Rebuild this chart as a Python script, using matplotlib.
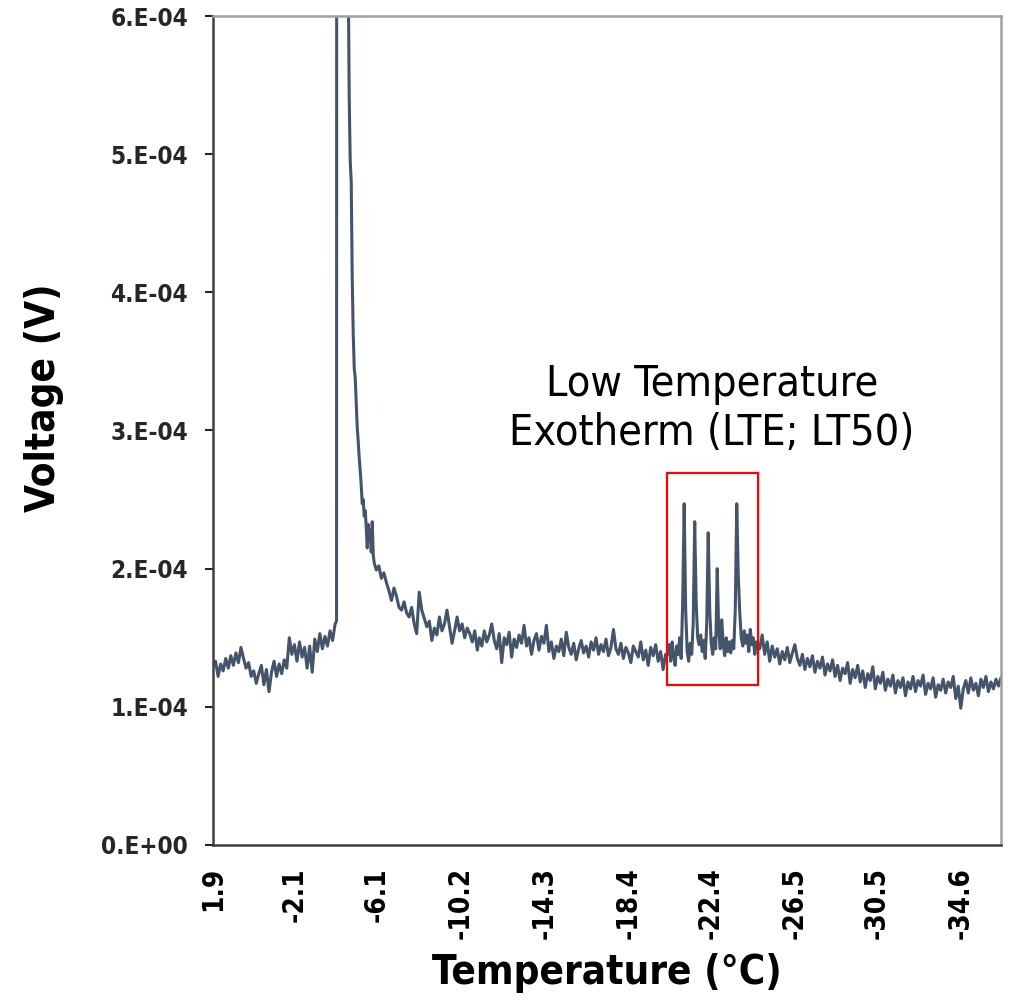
"""
Differential thermal analysis trace: voltage vs temperature with LTE box
"""

import numpy as np
import matplotlib
matplotlib.use('Agg')
import matplotlib.pyplot as plt
from matplotlib.patches import Rectangle
from matplotlib.ticker import FuncFormatter, MultipleLocator

plt.rcParams['font.family'] = ['DejaVu Sans']
plt.rcParams['font.stretch'] = 'condensed'

# ---- data (voltage in units of 1e-4 V) ----
# baseline before the freezing exotherm, 1.9 -> -4.06 C
pre_t = (1.9, -4.06)
pre_v = [1.30, 1.33, 1.22, 1.31, 1.26, 1.35, 1.28, 1.37, 1.30, 1.39, 1.32, 1.43,
         1.35, 1.28, 1.32, 1.22, 1.26, 1.17, 1.24, 1.30, 1.16, 1.27, 1.11,
         1.25, 1.33, 1.22, 1.31, 1.24, 1.34, 1.28,
         1.50, 1.38, 1.45, 1.33, 1.47, 1.36, 1.43, 1.28, 1.44, 1.25,
         1.49, 1.40, 1.53, 1.42, 1.51, 1.44, 1.55, 1.48, 1.60]

# freezing exotherm (goes off scale)
peak_t = [-4.13, -4.14, -4.65]
peak_v = [1.62, 9.0, 9.0]

# decay after freezing, -4.70 -> -5.97 C (fine steps)
decay1_t = (-4.70, -5.97)
decay1_v = [6.3, 5.4, 4.95, 4.8, 4.1, 3.7, 3.45, 3.38, 3.2, 3.02, 2.92, 2.8,
            2.71, 2.6, 2.47, 2.5, 2.38, 2.42, 2.3, 2.15, 2.32, 2.2, 2.28, 2.12,
            2.34, 2.1, 2.04]

# decay tail, -6.07 -> -11.0 C
decay2_t = (-6.07, -11.0)
decay2_v = [1.99, 2.02, 1.93, 1.97, 1.90, 1.84, 1.77, 1.86, 1.80, 1.72, 1.70,
            1.76, 1.68, 1.65, 1.72, 1.60, 1.53, 1.83, 1.70, 1.64, 1.58, 1.62,
            1.48, 1.57, 1.52, 1.65, 1.55, 1.60, 1.70, 1.58, 1.46, 1.55, 1.65,
            1.55, 1.60, 1.50, 1.57, 1.53, 1.47, 1.55, 1.41]

# flat baseline, -11.1 -> -20.19 C
mid_t = (-11.1, -20.19)
mid_v = [1.50, 1.44, 1.55, 1.47, 1.52, 1.60, 1.48, 1.42, 1.53, 1.32, 1.50, 1.45,
         1.54, 1.36, 1.49, 1.43, 1.52, 1.46, 1.59, 1.44, 1.50, 1.38, 1.48, 1.53,
         1.41, 1.51, 1.46, 1.59, 1.40, 1.47, 1.35, 1.44, 1.40, 1.49, 1.37, 1.54,
         1.43, 1.38, 1.46, 1.34, 1.42, 1.48, 1.39, 1.44, 1.36, 1.47, 1.41, 1.50,
         1.38, 1.45, 1.40, 1.49, 1.37, 1.43, 1.56, 1.42, 1.38, 1.46, 1.35, 1.43,
         1.39, 1.32, 1.44, 1.40, 1.36, 1.47, 1.34, 1.41, 1.30, 1.43, 1.37, 1.45,
         1.33, 1.40, 1.27, 1.38]

# low temperature exotherms, -20.29 -> -24.69 C
lte_t = (-20.29, -24.69)
lte_v = [1.38, 1.45, 1.33, 1.47, 1.36, 1.30, 1.44, 1.38, 1.50, 1.35,
         1.75, 2.47, 1.70, 1.40, 1.33, 1.46, 1.38, 1.60, 2.34, 1.75,
         1.50, 1.45, 1.52, 1.40, 1.48, 1.35, 1.60, 2.26, 1.70, 1.46,
         1.38, 1.50, 1.42, 2.00, 1.55, 1.42, 1.63, 1.45, 1.37, 1.50,
         1.40, 1.47, 1.39, 1.48, 1.42, 1.70, 2.47, 1.95, 1.68, 1.50,
         1.44, 1.55, 1.46, 1.52, 1.40, 1.56, 1.45, 1.50, 1.38, 1.47, 1.42]

# tail, -24.78 -> -36.56 C
tail_t = (-24.78, -36.56)
tail_v = [1.42, 1.52, 1.38, 1.47, 1.33, 1.44, 1.36, 1.42, 1.31, 1.40, 1.34, 1.43,
          1.32, 1.39, 1.45, 1.35, 1.30, 1.38, 1.27, 1.35, 1.29, 1.37, 1.25, 1.33,
          1.28, 1.36, 1.23, 1.31, 1.26, 1.34, 1.22, 1.30, 1.19, 1.28, 1.24, 1.32,
          1.17, 1.27, 1.21, 1.30, 1.18, 1.26, 1.14, 1.24, 1.19, 1.29, 1.13, 1.22,
          1.17, 1.25, 1.12, 1.20, 1.15, 1.23, 1.10, 1.19, 1.14, 1.21, 1.08, 1.18,
          1.13, 1.22, 1.11, 1.19, 1.15, 1.23, 1.09, 1.17, 1.13, 1.21, 1.07, 1.16,
          1.12, 1.20, 1.10, 1.18, 1.14, 1.22, 1.06, 1.15, 0.99, 1.13, 1.19, 1.10,
          1.21, 1.12, 1.17, 1.08, 1.20, 1.14, 1.22, 1.11, 1.18, 1.13, 1.20, 1.15,
          1.21]

tick_labels = ['1.9', '-2.1', '-6.1', '-10.2', '-14.3', '-18.4', '-22.4',
               '-26.5', '-30.5', '-34.6']
x_range = (1.9, -36.56)

# LTE box (temperature, voltage)
box_t = (-20.24, -24.69)
box_v = (1.16e-4, 2.69e-4)

# ---- assemble trace ----
def seg(trange, vals):
    return np.linspace(trange[0], trange[1], len(vals)), np.array(vals)

parts = [seg(pre_t, pre_v), (np.array(peak_t), np.array(peak_v)),
         seg(decay1_t, decay1_v), seg(decay2_t, decay2_v), seg(mid_t, mid_v),
         seg(lte_t, lte_v), seg(tail_t, tail_v)]
temp = np.concatenate([p[0] for p in parts])
volt = np.concatenate([p[1] for p in parts]) * 1e-4

# ---- plot ----
fig = plt.figure(figsize=(10.15, 10.01), dpi=100)
ax = fig.add_axes([213/1015, 1 - 845/1001, (1001-213)/1015, (845-16)/1001])

ax.plot(temp, volt, color='#44546A', lw=2.2, solid_joinstyle='round')

ax.set_xlim(*x_range)
ax.set_ylim(0, 6e-4)

ax.set_xticks([float(t) for t in tick_labels])
ax.set_xticklabels(tick_labels, rotation=90, fontsize=20, fontweight='bold')
ax.tick_params(axis='x', length=0, pad=16)

ax.yaxis.set_major_locator(MultipleLocator(1e-4))

def sci_fmt(v, pos):
    if abs(v) < 1e-12:
        return '0.E+00'
    e = int(np.floor(np.log10(abs(v)) + 1e-9))
    m = int(round(v / 10**e))
    return f'{m}.E{e:+03d}'

ax.yaxis.set_major_formatter(FuncFormatter(sci_fmt))
ax.tick_params(axis='y', direction='out', length=6, width=1.5, pad=12,
               labelsize=17.5, colors='#262626')
for lab in ax.get_yticklabels():
    lab.set_fontweight('bold')

for side in ['left', 'bottom']:
    ax.spines[side].set_color('#404040')
    ax.spines[side].set_linewidth(1.8)
for side in ['top', 'right']:
    ax.spines[side].set_color('#A0A0A0')
    ax.spines[side].set_linewidth(1.8)

ax.add_patch(Rectangle((box_t[0], box_v[0]), box_t[1] - box_t[0],
                       box_v[1] - box_v[0], fill=False, edgecolor='#FF0000',
                       lw=1.6, zorder=3))

ax.text(-22.45, 3.16e-4, 'Low Temperature\nExotherm (LTE; LT50)', ha='center',
        va='center', fontsize=31, linespacing=1.22, color='black')

fig.text(44/1015, 1 - 398/1001, 'Voltage (V)', rotation=90, ha='center',
         va='center', fontsize=29, fontweight='bold')
fig.text(607/1015, 1 - 973/1001, 'Temperature (\u00b0C)', ha='center',
         va='center', fontsize=29, fontweight='bold')

fig.savefig('out.png', dpi=100)
